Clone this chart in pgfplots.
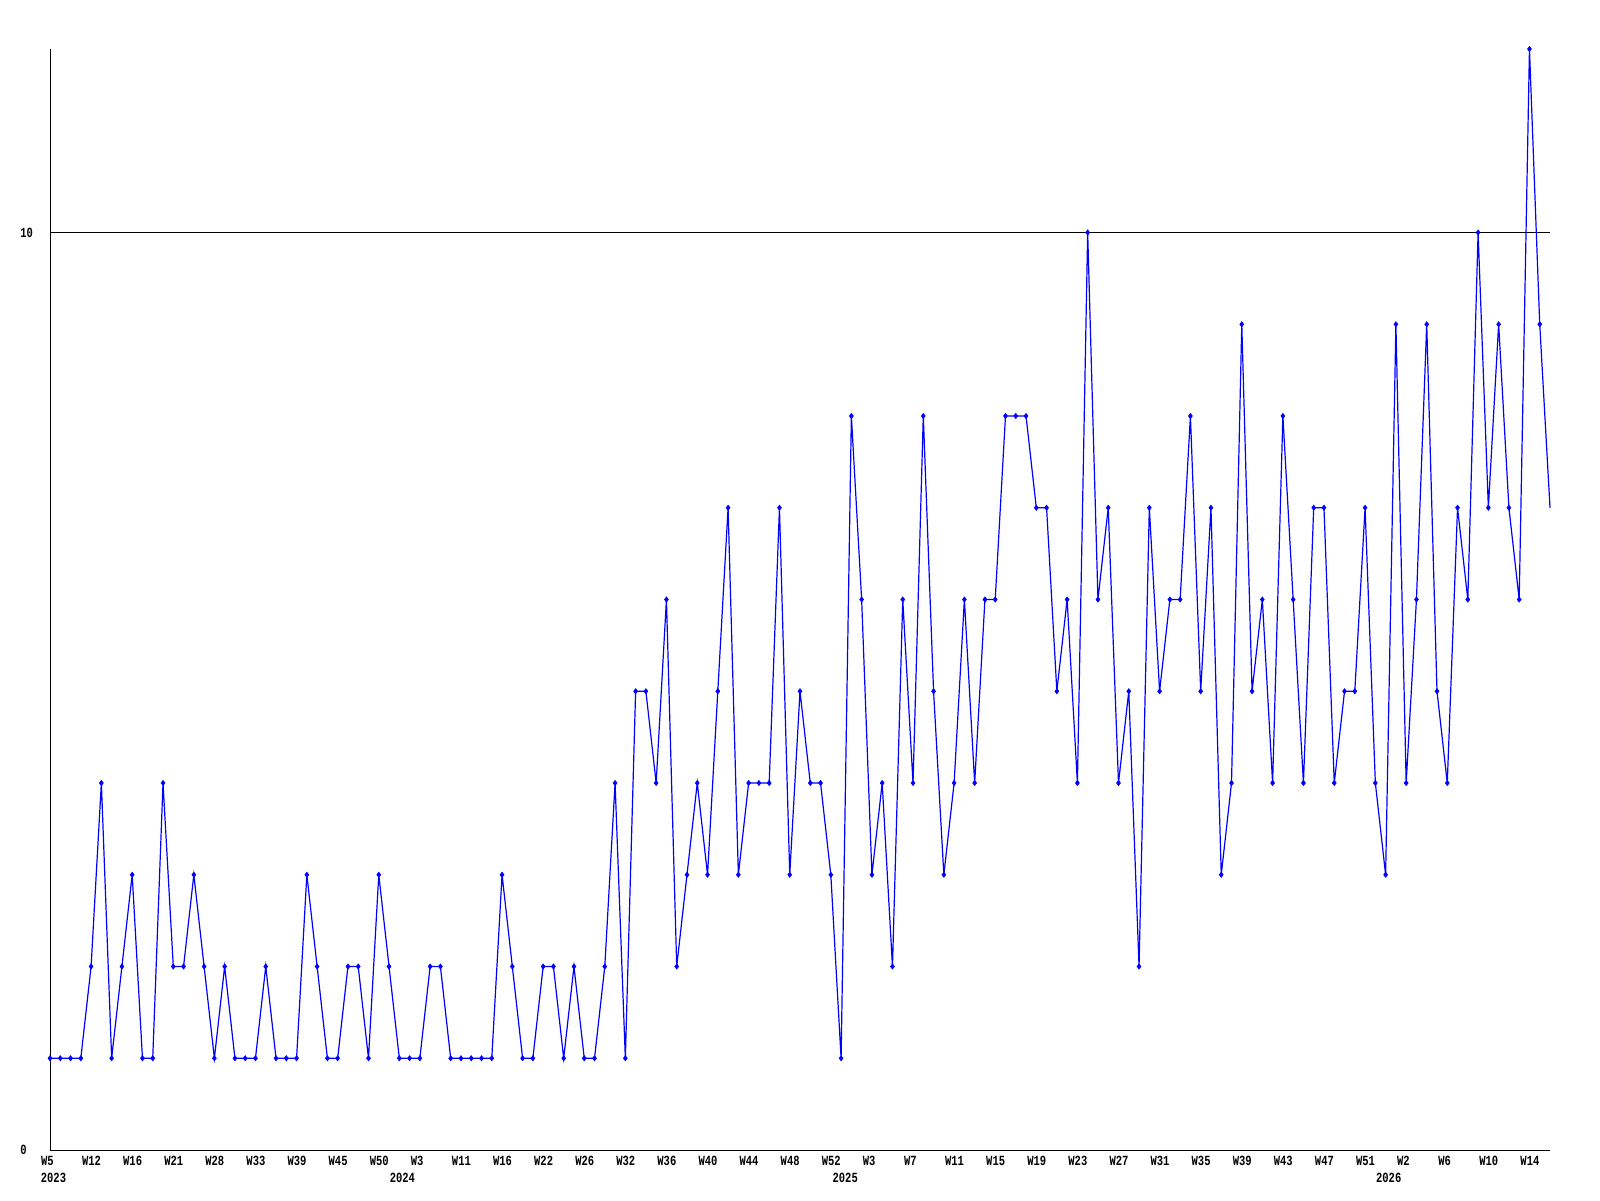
\documentclass[border=0pt]{standalone}
\usepackage{pgfplots}
\usepackage{pgfplotstable}
\pgfplotsset{compat=1.18}
\usepackage{fontspec}
\newfontfamily\tickfont[FakeStretch=0.75]{Liberation Mono}

% weekly counts, one row per data point (weeks without data are skipped)
\pgfplotstableread[row sep=\\]{
v\\
1\\1\\1\\1\\2\\4\\1\\2\\3\\1\\1\\4\\2\\2\\3\\2\\1\\2\\1\\1\\1\\2\\1\\1\\1\\3\\2\\1\\1\\
2\\2\\1\\3\\2\\1\\1\\1\\2\\2\\1\\1\\1\\1\\1\\3\\2\\1\\1\\2\\2\\1\\2\\1\\1\\2\\4\\1\\
5\\5\\4\\6\\2\\3\\4\\3\\5\\7\\3\\4\\4\\4\\7\\3\\5\\4\\4\\3\\1\\
8\\6\\3\\4\\2\\6\\4\\8\\5\\3\\4\\6\\4\\6\\6\\8\\8\\8\\7\\7\\5\\6\\4\\10\\6\\
7\\4\\5\\2\\7\\5\\6\\6\\8\\5\\7\\3\\4\\9\\5\\6\\4\\8\\6\\4\\7\\7\\4\\
5\\5\\7\\4\\3\\9\\4\\6\\9\\5\\4\\7\\6\\10\\7\\9\\7\\6\\12\\9\\7\\
}\counts

\tikzset{yearlbl/.style={anchor=north, inner sep=0pt, yshift=-11.5pt,
    font=\tickfont\bfseries\fontsize{7pt}{8pt}\selectfont}}

\begin{document}
\begin{tikzpicture}
\begin{axis}[
    at={(25pt,25pt)}, anchor=south west,
    scale only axis,
    width=750pt, height=550.5pt,
    xmin=0, xmax=146, ymin=0, ymax=12,
    axis x line=bottom, axis y line=left,
    axis line style={-, black, line width=0.5pt},
    major tick length=0pt,
    xtick={0,4,...,144},
    xticklabels={W5,W12,W16,W21,W28,W33,W39,W45,W50,W3,W11,W16,W22,W26,W32,W36,W40,W44,W48,W52,W3,W7,W11,W15,W19,W23,W27,W31,W35,W39,W43,W47,W51,W2,W6,W10,W14},
    ytick={0,10},
    ymajorgrids,
    grid style={black, line width=0.5pt},
    /pgf/number format/assume math mode=true,
    tick label style={font=\tickfont\bfseries\fontsize{7pt}{8pt}\selectfont, inner sep=0pt},
    xticklabel style={anchor=north west, xshift=-4.7pt, yshift=-3pt},
    yticklabel style={anchor=west, xshift=-15pt},
    clip=false,
]
\addplot[blue, line width=0.6pt, mark=diamond*, mark size=1.3pt,
    mark indices={1,...,146},
    mark options={solid, draw=blue, fill=blue, line width=0.3pt}]
    table[x expr=\coordindex, y=v] {\counts};
\node[yearlbl] at (axis cs:0.34,0) {2023};
\node[yearlbl] at (axis cs:34.3,0) {2024};
\node[yearlbl] at (axis cs:77.4,0) {2025};
\node[yearlbl] at (axis cs:130.3,0) {2026};
\end{axis}
\pgfresetboundingbox
\path[use as bounding box] (0,0) rectangle (800pt,600pt);
\end{tikzpicture}
\end{document}
